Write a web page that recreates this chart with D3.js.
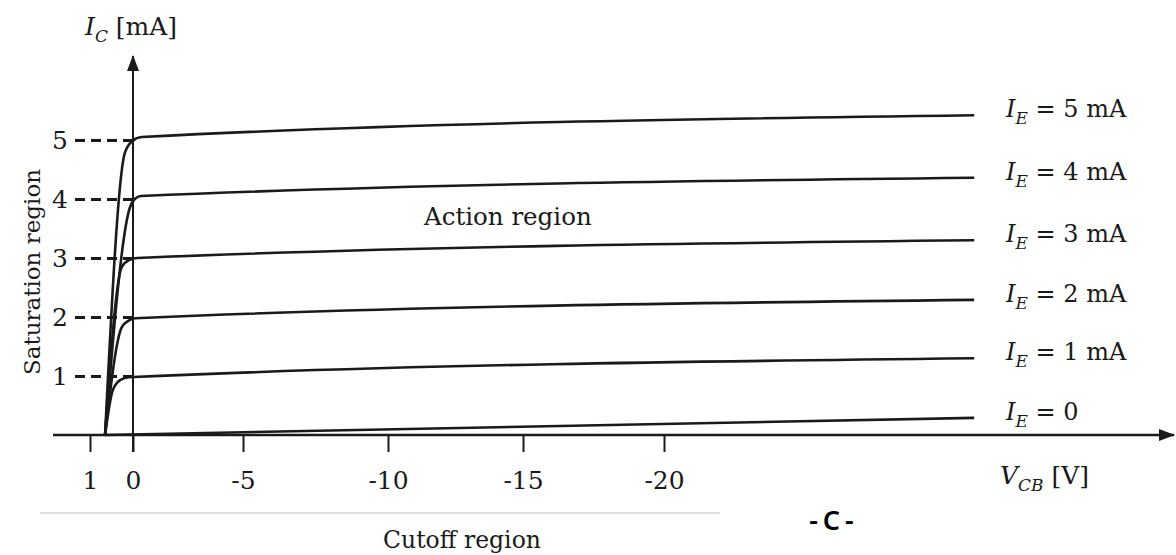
<!DOCTYPE html>
<html>
<head>
<meta charset="utf-8">
<script src="https://cdn.jsdelivr.net/npm/d3@7"></script>
<style>
  body { margin: 0; background: #fff; }
  svg { display: block; }
</style>
</head>
<body>
<div id="chart"></div>
<script>
/* Data. V_CB in volts, I_C in mA. */
const xTicks = [1, 0, -5, -10, -15, -20]
const yTicks = [1, 2, 3, 4, 5]
const emitterLabels = ["5 mA", "4 mA", "3 mA", "2 mA", "1 mA", "0"]

const curveIE5 = [[0.65, 0], [0.19, 4.78], [0.02, 4.98], [-0.4, 5.05], [-31, 5.42]]
const curveIE4 = [[0.65, 0], [0.07, 3.86], [-0.08, 4.0], [-0.35, 4.05], [-31, 4.36]]
const curveIE3 = [[0.65, 0], [0.26, 2.85], [0.08, 2.97], [-0.2, 3.0], [-31, 3.3]]
const curveIE2 = [[0.65, 0], [0.26, 1.83], [0.1, 1.94], [-0.1, 1.98], [-31, 2.29]]
const curveIE1 = [[0.65, 0], [0.47, 0.76], [0.3, 0.93], [0.1, 0.98], [-31, 1.3]]
const curveIE0 = [[0.65, 0], [-31, 0.29]]

const curves = [curveIE5, curveIE4, curveIE3, curveIE2, curveIE1, curveIE0]

/* Define svg-size. */
const width = 1176
const height = 555
const ink = "#1a1a1a"
const serif = "'DejaVu Serif', serif"

/* Create svg-element. */
const svg = d3.select("#chart")
  .append("svg")
  .attr("width", width)
  .attr("height", height)
  .style("font-family", serif)

/* Scales. The drawing is a sketch, so the x axis is not evenly spaced. */
const x = d3.scaleLinear()
  .domain(xTicks)
  .range([90, 133, 243, 388, 523, 664])

const y = d3.scaleLinear()
  .domain([0, 5])
  .range([435, 140])

/* Arrow marker for both axes. */
svg.append("defs")
  .append("marker")
  .attr("id", "arrow")
  .attr("viewBox", "0 0 16 12")
  .attr("refX", 15)
  .attr("refY", 6)
  .attr("markerWidth", 16)
  .attr("markerHeight", 12)
  .attr("markerUnits", "userSpaceOnUse")
  .attr("orient", "auto")
  .append("path")
  .attr("d", "M0,0 L16,6 L0,12 Z")
  .attr("fill", ink)

/* x axis: ticks hang below the base line. */
const xAxis = svg.append("g")
  .attr("transform", `translate(0, ${y(0)})`)
  .call(d3.axisBottom(x)
    .tickValues(xTicks)
    .tickSize(17)
    .tickPadding(19)
    .tickFormat(d => String(d)))

xAxis.select(".domain").remove()
xAxis.selectAll("line").attr("stroke", ink).attr("stroke-width", 2)
xAxis.selectAll("text")
  .attr("fill", ink)
  .attr("font-family", serif)
  .attr("font-size", 25)

/* y axis: dashed guide lines to the tick labels. */
const yAxis = svg.append("g")
  .attr("transform", `translate(${x(0)}, 0)`)
  .call(d3.axisLeft(y)
    .tickValues(yTicks)
    .tickSize(58)
    .tickPadding(7)
    .tickFormat(d3.format("d")))

yAxis.select(".domain").remove()
yAxis.selectAll("line")
  .attr("stroke", ink)
  .attr("stroke-width", 3)
  .attr("stroke-dasharray", "10,6")
yAxis.selectAll("text")
  .attr("fill", ink)
  .attr("font-family", serif)
  .attr("font-size", 25)

/* Axis lines with arrows. */
svg.append("line")
  .attr("x1", 53)
  .attr("x2", 1174)
  .attr("y1", y(0))
  .attr("y2", y(0))
  .attr("stroke", ink)
  .attr("stroke-width", 2.4)
  .attr("marker-end", "url(#arrow)")

svg.append("line")
  .attr("x1", x(0))
  .attr("x2", x(0))
  .attr("y1", y(0) + 17)
  .attr("y2", 56)
  .attr("stroke", ink)
  .attr("stroke-width", 2)
  .attr("marker-end", "url(#arrow)")

/* Characteristic curves. */
const line = d3.line()
  .x(d => x(d[0]))
  .y(d => y(d[1]))
  .curve(d3.curveMonotoneX)

svg.append("g")
  .selectAll("path")
  .data(curves)
  .enter()
  .append("path")
  .attr("d", line)
  .attr("fill", "none")
  .attr("stroke", ink)
  .attr("stroke-width", 2.6)

/* Curve labels I_E = ... */
const labels = svg.append("g")
  .selectAll("text")
  .data(curves)
  .enter()
  .append("text")
  .attr("x", 1006)
  .attr("y", d => y(d[d.length - 1][1]) + 2)
  .attr("font-size", 24)
  .attr("fill", ink)

labels.append("tspan").attr("font-style", "italic").text("I")
labels.append("tspan").attr("font-style", "italic").attr("font-size", 17).attr("dy", 7).text("E")
labels.append("tspan").attr("dy", -7).text((d, i) => ` = ${emitterLabels[i]}`)

/* Axis titles. */
const yTitle = svg.append("text")
  .attr("x", 85)
  .attr("y", 35)
  .attr("font-size", 25)
  .attr("fill", ink)
yTitle.append("tspan").attr("font-style", "italic").text("I")
yTitle.append("tspan").attr("font-style", "italic").attr("font-size", 17).attr("dy", 7).text("C")
yTitle.append("tspan").attr("dy", -7).text(" [mA]")

const xTitle = svg.append("text")
  .attr("x", 1000)
  .attr("y", 484)
  .attr("font-size", 25)
  .attr("fill", ink)
xTitle.append("tspan").attr("font-style", "italic").text("V")
xTitle.append("tspan").attr("font-style", "italic").attr("font-size", 17).attr("dy", 7).text("CB")
xTitle.append("tspan").attr("dy", -7).text(" [V]")

/* Region notes. */
svg.append("text")
  .attr("x", 424)
  .attr("y", 225)
  .attr("font-size", 24.5)
  .attr("fill", ink)
  .text("Action region")

svg.append("text")
  .attr("transform", "translate(40, 272) rotate(-90)")
  .attr("text-anchor", "middle")
  .attr("font-size", 23)
  .attr("fill", ink)
  .text("Saturation region")

svg.append("line")
  .attr("x1", 40)
  .attr("x2", 720)
  .attr("y1", 513)
  .attr("y2", 513)
  .attr("stroke", "#d4d4d4")
  .attr("stroke-width", 1.5)

svg.append("text")
  .attr("x", 462)
  .attr("y", 548)
  .attr("text-anchor", "middle")
  .attr("font-size", 23.5)
  .attr("fill", ink)
  .text("Cutoff region")

svg.append("text")
  .attr("x", 834)
  .attr("y", 530)
  .attr("text-anchor", "middle")
  .attr("font-family", "'Noto Sans', sans-serif")
  .attr("font-size", 27)
  .attr("font-weight", 600)
  .attr("letter-spacing", 5)
  .attr("fill", "#000")
  .text("-C-")
</script>
</body>
</html>
